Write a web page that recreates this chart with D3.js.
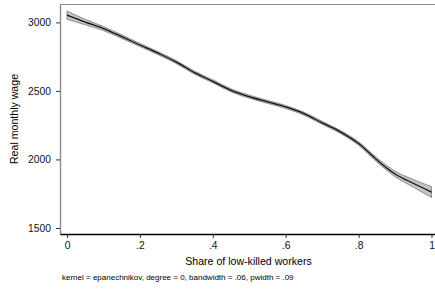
<!DOCTYPE html>
<html>
<head>
<meta charset="utf-8">
<script src="https://cdn.jsdelivr.net/npm/d3@7"></script>
<style>
body { margin: 0; background: #fff; }
text { font-family: "Liberation Sans", Arial, sans-serif; }
</style>
</head>
<body>
<script>
// smoothed wage by share of low-skilled workers, with CI band
var share = [0, .05, .1, .15, .2, .25, .3, .35, .4, .45, .5, .55, .6, .65, .7, .75, .8, .85, .9, .95, 1];
var wage  = [3053, 3002, 2955, 2896, 2835, 2775, 2710, 2633, 2570, 2504, 2458, 2420, 2383, 2334, 2267, 2201, 2116, 1997, 1894, 1826, 1762];
var ciLo  = [3023, 2982, 2940, 2883, 2824, 2764, 2699, 2622, 2559, 2493, 2447, 2409, 2372, 2323, 2256, 2190, 2103, 1981, 1874, 1798, 1722];
var ciHi  = [3083, 3022, 2970, 2909, 2846, 2786, 2721, 2644, 2581, 2515, 2469, 2431, 2394, 2345, 2278, 2212, 2129, 2013, 1914, 1854, 1802];
var xTicks = [0, .2, .4, .6, .8, 1];
var xTickLabels = ["0", ".2", ".4", ".6", ".8", "1"];
var yTicks = [1500, 2000, 2500, 3000];

var width = 435, height = 289;
var svg = d3.select("body").append("svg").attr("width", width).attr("height", height);

var x = d3.scaleLinear().domain([-0.0192, 1.0096]).range([60, 435]);
var y = d3.scaleLinear().domain([1456, 3134]).range([234, 4]);

var rows = share.map((s, i) => ({s: s, w: wage[i], lo: ciLo[i], hi: ciHi[i]}));

// top frame line
svg.append("line").attr("x1", 60).attr("x2", 435).attr("y1", 4.5).attr("y2", 4.5)
    .attr("stroke", "#8c8c8c").attr("stroke-width", 1.2);

// band
var area = d3.area().x(d => x(d.s)).y0(d => y(d.lo)).y1(d => y(d.hi)).curve(d3.curveMonotoneX);
svg.append("path").datum(rows).attr("d", area)
    .attr("fill", "#c4c4c4").attr("stroke", "#7a7a7a").attr("stroke-width", 0.8);

var line = d3.line().x(d => x(d.s)).y(d => y(d.w)).curve(d3.curveMonotoneX);
svg.append("path").datum(rows).attr("d", line)
    .attr("fill", "none").attr("stroke", "#111").attr("stroke-width", 1.3);

// axes
var gy = svg.append("g").attr("transform", "translate(60,0)")
    .call(d3.axisLeft(y).tickValues(yTicks).tickFormat(d3.format("d")).tickSize(4).tickPadding(5).tickSizeOuter(0));
gy.select(".domain").attr("stroke", "#8c8c8c").attr("stroke-width", 1.4);
gy.selectAll(".tick line").attr("stroke", "#333");
gy.selectAll(".tick text").attr("font-size", 10.3).attr("fill", "#111");

var gx = svg.append("g").attr("transform", "translate(0,234)")
    .call(d3.axisBottom(x).tickValues(xTicks).tickFormat((d, i) => xTickLabels[i]).tickSize(4).tickPadding(4).tickSizeOuter(0));
gx.select(".domain").attr("stroke", "#000").attr("stroke-width", 1.4);
gx.selectAll(".tick line").attr("stroke", "#333");
gx.selectAll(".tick text").attr("font-size", 10.3).attr("fill", "#111");

svg.append("text").attr("x", 248.5).attr("y", 265).attr("text-anchor", "middle")
    .attr("font-size", 10.6).attr("fill", "#000").text("Share of low-killed workers");

svg.append("text").attr("transform", "translate(18,119) rotate(-90)").attr("text-anchor", "middle")
    .attr("font-size", 10.6).attr("fill", "#000").text("Real monthly wage");

svg.append("text").attr("x", 62).attr("y", 280)
    .attr("font-size", 8).attr("fill", "#000")
    .text("kernel = epanechnikov, degree = 0, bandwidth = .06, pwidth = .09");
</script>
</body>
</html>
